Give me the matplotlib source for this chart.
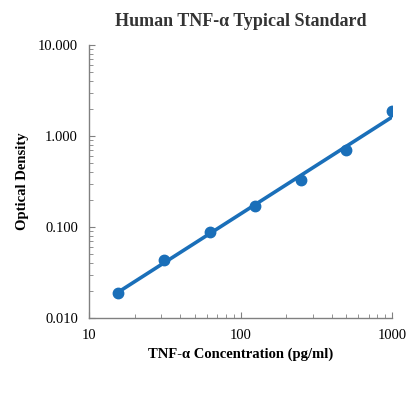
import numpy as np
import matplotlib
matplotlib.use("Agg")
import matplotlib.pyplot as plt
from matplotlib.ticker import LogLocator, FormatStrFormatter, NullFormatter

# standard curve readings
conc = [15.6, 31.25, 62.5, 125, 250, 500, 1000]
od = [0.019, 0.043, 0.088, 0.172, 0.33, 0.70, 1.87]

plt.rcParams['font.family'] = ['Liberation Serif', 'DejaVu Serif']

fig = plt.figure(figsize=(4.18, 3.95), dpi=100)
ax = fig.add_axes([0.213, 0.195, 0.725, 0.691])

# power fit in log-log space
k, b = np.polyfit(np.log10(conc), np.log10(od), 1)
xf = np.array([conc[0], conc[-1]])
yf = 10 ** (k * np.log10(xf) + b)

col = '#1a6fb9'
ax.plot(xf, yf, color=col, lw=2.6, solid_capstyle='butt')
ax.plot(conc, od, 'o', color=col, ms=7.5)

ax.set_xscale('log')
ax.set_yscale('log')
ax.set_xlim(10, 1000)
ax.set_ylim(0.01, 10)

ax.yaxis.set_major_formatter(FormatStrFormatter('%.3f'))
ax.xaxis.set_major_formatter(FormatStrFormatter('%d'))
ax.xaxis.set_minor_formatter(NullFormatter())
ax.yaxis.set_minor_formatter(NullFormatter())
ax.xaxis.set_minor_locator(LogLocator(base=10, subs=np.arange(2, 10)))
ax.yaxis.set_minor_locator(LogLocator(base=10, subs=np.arange(2, 10)))

for s in ['top', 'right']:
    ax.spines[s].set_visible(False)
for s in ['left', 'bottom']:
    ax.spines[s].set_color('#808080')
    ax.spines[s].set_linewidth(1.0)

ax.tick_params(which='both', direction='in', color='#808080', labelsize=10.5, pad=8)
ax.tick_params(which='major', length=4)
ax.tick_params(which='minor', length=3)

ax.set_title('Human TNF-α Typical Standard', fontsize=13, fontweight='bold', color='#333333', pad=14)
ax.set_xlabel('TNF-α Concentration (pg/ml)', fontsize=10.5, fontweight='bold', labelpad=4)
ax.set_ylabel('Optical Density', fontsize=10.5, fontweight='bold', labelpad=6)

fig.savefig('out.png', dpi=100)
